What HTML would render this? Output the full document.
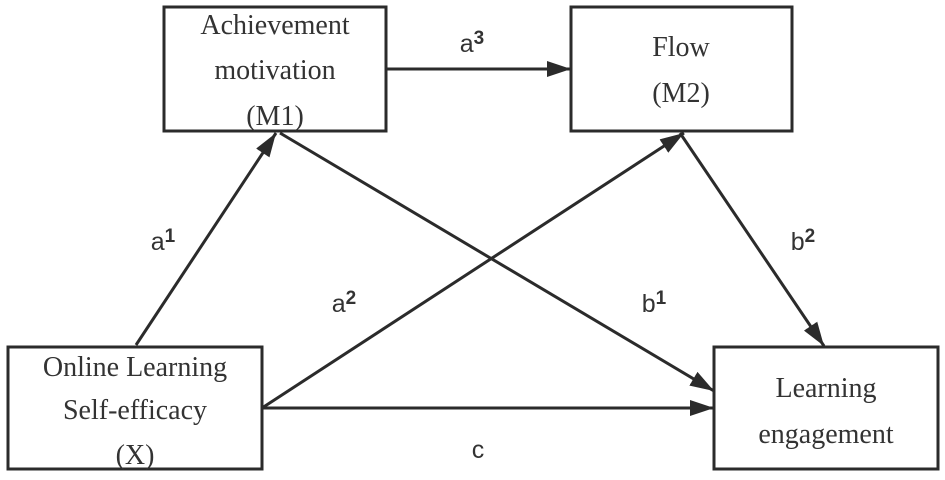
<!DOCTYPE html>
<html><head><style>
html,body{margin:0;padding:0;background:#fff;}
svg{display:block;}
.t{font-family:"Liberation Serif",serif;font-size:28px;fill:#333;text-anchor:middle;}
.l{font-family:"Liberation Sans",sans-serif;font-size:25px;fill:#333;text-anchor:middle;}
.s{font-size:19px;font-weight:bold;}
</style></head><body>
<svg width="945" height="480" viewBox="0 0 945 480" xmlns="http://www.w3.org/2000/svg">
<defs>
<marker id="b" markerWidth="24" markerHeight="16" refX="24" refY="8" orient="auto" markerUnits="userSpaceOnUse"><path d="M0,0 L24,8 L0,16Z" fill="#2b2b2b"/></marker></defs>
<g fill="none" stroke="#2b2b2b" stroke-width="3">
<rect x="164" y="7" width="222" height="124"/>
<rect x="571" y="7" width="221" height="124"/>
<rect x="8" y="347" width="254" height="122"/>
<rect x="714" y="347" width="224" height="122"/>
<line x1="386" y1="69" x2="571" y2="69" marker-end="url(#b)"/>
<line x1="136" y1="345" x2="276" y2="133" marker-end="url(#b)"/>
<line x1="280" y1="133" x2="714" y2="391" marker-end="url(#b)"/>
<line x1="262" y1="408" x2="684" y2="133" marker-end="url(#b)"/>
<line x1="262" y1="408" x2="714" y2="408" marker-end="url(#b)"/>
<line x1="680" y1="133" x2="824" y2="346" marker-end="url(#b)"/>
</g>
<text class="t" x="275" y="34">Achievement</text>
<text class="t" x="275" y="79">motivation</text>
<text class="t" x="275" y="125">(M1)</text>
<text class="t" x="681" y="56">Flow</text>
<text class="t" x="681" y="102">(M2)</text>
<text class="t" x="135" y="376">Online Learning</text>
<text class="t" x="135" y="419">Self-efficacy</text>
<text class="t" x="135" y="464">(X)</text>
<text class="t" x="826" y="397">Learning</text>
<text class="t" x="826" y="443">engagement</text>
<text class="l" x="472" y="52">a<tspan class="s" dy="-8">3</tspan></text>
<text class="l" x="163" y="250">a<tspan class="s" dy="-8">1</tspan></text>
<text class="l" x="344" y="312">a<tspan class="s" dy="-8">2</tspan></text>
<text class="l" x="654" y="312">b<tspan class="s" dy="-8">1</tspan></text>
<text class="l" x="803" y="250">b<tspan class="s" dy="-8">2</tspan></text>
<text class="l" x="478" y="458">c</text>
</svg>
</body></html>
